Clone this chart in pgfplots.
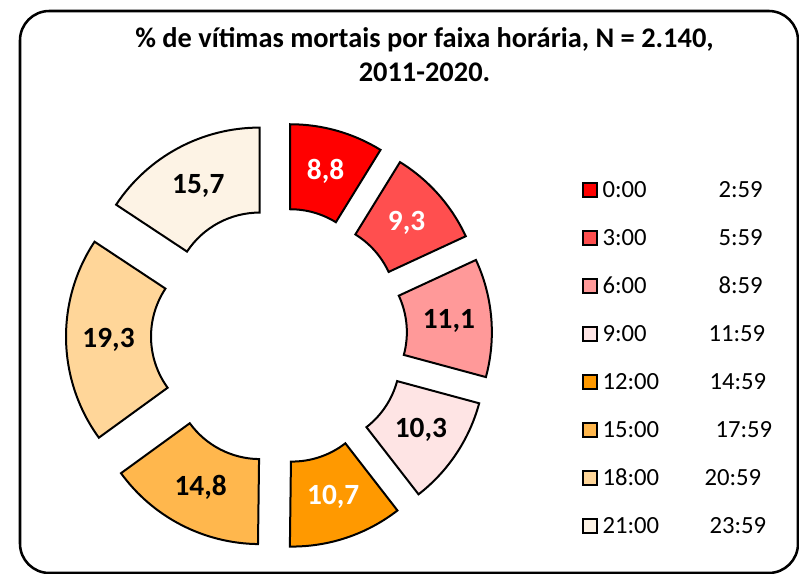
\documentclass[border=0pt]{standalone}
\usepackage{pgfplots}
\pgfplotsset{compat=1.18}
\usepackage{pgfplotstable}
\usepackage{fontspec}
\setmainfont{Carlito}
\definecolor{c0}{HTML}{FF0000}
\definecolor{c1}{HTML}{FF4F4F}
\definecolor{c2}{HTML}{FF9999}
\definecolor{c3}{HTML}{FEE4E4}
\definecolor{c4}{HTML}{FF9900}
\definecolor{c5}{HTML}{FFB74D}
\definecolor{c6}{HTML}{FFD699}
\definecolor{c7}{HTML}{FDF3E5}
\pgfplotstableread{
value lab lc from to gap
8.8 8,8 white 0:00 2:59 87
9.3 9,3 white 3:00 5:59 87
11.1 11,1 black 6:00 8:59 87
10.3 10,3 black 9:00 11:59 79.5
10.7 10,7 white 12:00 14:59 80.25
14.8 14,8 black 15:00 17:59 84.75
19.3 19,3 black 18:00 20:59 76.5
15.7 15,7 black 21:00 23:59 80.25
}\datatable
\newcommand\cx{279}
\newcommand\cy{238.3}
\newcommand\Rout{172}
\newcommand\Rin{87}
\newcommand\Dex{41}
\newcommand\labelfont{\fontsize{22}{22}\selectfont\bfseries}
\begin{document}
\begin{tikzpicture}
\path[use as bounding box] (0,0) rectangle (599.25pt,430.5pt);
\begin{axis}[at={(0,0)}, anchor=south west, scale only axis,
  x=0.75pt, y=0.75pt, xmin=0, xmax=799, ymin=0, ymax=574,
  axis lines=none, clip=false,
  legend image code/.code={\filldraw[#1] (0pt,-5.25pt) rectangle (10.5pt,5.25pt);},
  legend style={at={(axis cs:582,216)}, anchor=west, draw=none, fill=none,
    inner sep=0pt, row sep=24.25pt, column sep=3.5pt,
    font=\fontsize{18.5}{18.5}\selectfont,
    nodes={inner sep=0pt, text height=11pt, text depth=0pt}},
  legend cell align=left]
\draw[rounded corners=22pt, line width=1.9pt] (axis cs:20,1) rectangle (axis cs:798,563);
\node[anchor=base, font=\fontsize{21.3}{21.3}\selectfont\bfseries] at (axis cs:424.5,526) {\% de vítimas mortais por faixa horária, N = 2.140,};
\node[anchor=base, font=\fontsize{21.3}{21.3}\selectfont\bfseries] at (axis cs:424.5,492) {2011-2020.};
\pgfmathsetmacro\cum{0}
\pgfplotsforeachungrouped \i in {0,...,7}{%
  \pgfplotstablegetelem{\i}{value}\of\datatable \let\v\pgfplotsretval
  \pgfplotstablegetelem{\i}{lab}\of\datatable \let\lab\pgfplotsretval
  \pgfplotstablegetelem{\i}{lc}\of\datatable \let\lc\pgfplotsretval
  \pgfplotstablegetelem{\i}{from}\of\datatable \let\fr\pgfplotsretval
  \pgfplotstablegetelem{\i}{to}\of\datatable \let\tto\pgfplotsretval
  \pgfplotstablegetelem{\i}{gap}\of\datatable \let\gp\pgfplotsretval
  \pgfmathsetmacro\aS{90-3.6*\cum}
  \pgfmathsetmacro\aE{90-3.6*(\cum+\v)}
  \pgfmathsetmacro\aM{(\aS+\aE)/2}
  \pgfmathsetmacro\ox{\cx+\Dex*cos(\aM)}
  \pgfmathsetmacro\oy{\cy+\Dex*sin(\aM)}
  \pgfmathsetmacro\pAx{\ox+\Rout*cos(\aS)}
  \pgfmathsetmacro\pAy{\oy+\Rout*sin(\aS)}
  \pgfmathsetmacro\pBx{\ox+\Rin*cos(\aE)}
  \pgfmathsetmacro\pBy{\oy+\Rin*sin(\aE)}
  \pgfmathsetmacro\lx{\ox+(\Rout+\Rin)/2*cos(\aM)}
  \pgfmathsetmacro\ly{\oy+(\Rout+\Rin)/2*sin(\aM)}
  \pgfmathsetmacro\ro{\Rout*0.75}
  \pgfmathsetmacro\ri{\Rin*0.75}
  \edef\temp{%
    \noexpand\filldraw[fill=c\i, draw=black, line width=1.5pt]
      (axis cs:\pAx,\pAy) arc[start angle=\aS, end angle=\aE, radius=\ro pt]
      -- (axis cs:\pBx,\pBy) arc[start angle=\aE, end angle=\aS, radius=\ri pt] -- cycle;
    \noexpand\node[text=\lc, font=\noexpand\labelfont] at (axis cs:\lx,\ly) {\lab};
    \noexpand\addlegendimage{fill=c\i, draw=black, line width=1.2pt}
    \noexpand\addlegendentry{\noexpand\makebox[\gp pt][l]{\fr}\tto}
  }%
  \temp
  \pgfmathsetmacro\cum{\cum+\v}
}
\end{axis}
\end{tikzpicture}
\end{document}
